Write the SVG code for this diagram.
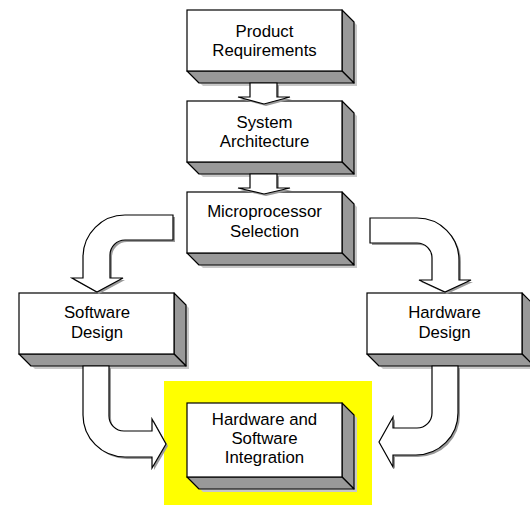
<svg xmlns="http://www.w3.org/2000/svg" xmlns:xlink="http://www.w3.org/1999/xlink" width="530" height="506" viewBox="0 0 530 506">
<style>
.face{fill:#ffffff;stroke:#000;stroke-width:1.2}
.side{fill:#999999;stroke:#000;stroke-width:1.2;stroke-linejoin:round}
.bsh{fill:#c8c8c8;stroke:none}
.arr{fill:#ffffff;stroke:#000;stroke-width:1.2;stroke-linejoin:miter}
.ash{fill:#9a9a9a;stroke:none}
text{font-family:"Liberation Sans",Arial,sans-serif;font-size:16.8px;fill:#000;text-anchor:middle}
</style>
<defs>
<g id="box">
<polygon class="bsh" points="157,2 170,15 170,76 16,76 2,62 155,62"/>
<polygon class="side" points="155,0 167,12 167,73 155,61"/>
<polygon class="side" points="0,61 155,61 167,73 12,73"/>
<rect class="face" x="0" y="0" width="155" height="61"/>
</g>
<path id="a1" d="M250,83 V97 H238 L264,104 L290,97 H277 V83 Z"/>
<path id="a2" d="M250,174 V188 H238 L264,194 L290,188 H277 V174 Z"/>
<path id="a3" d="M173,215 H125 A42,42 0 0 0 83,257 V278 H72 L97,292 L123,278 H110 V255 A15,15 0 0 1 125,240 H173 Z"/>
<path id="a4" d="M370,218 H417 A42,42 0 0 1 459,260 V280 H471 L445,292 L419,280 H432 V258 A15,15 0 0 0 417,243 H370 Z"/>
<path id="a5" d="M83,366 V415 A42,42 0 0 0 125,457 H152 V468 L166,444 L152,419 V431 H124 A15,15 0 0 1 109,416 V366 Z"/>
<path id="a6" d="M458,366 V413 A42,42 0 0 1 416,455 H393 V467 L379,442 L393,417 V428 H417 A15,15 0 0 0 432,413 V366 Z"/>
</defs>
<rect x="0" y="0" width="530" height="506" fill="#ffffff"/>
<rect id="highlight" x="164" y="381" width="208" height="124" fill="#ffff00"/>

<g id="product-requirements">
<use xlink:href="#box" href="#box" transform="translate(187,10)"/>
<text x="264.5" y="37">Product</text>
<text x="264.5" y="56">Requirements</text>
</g>
<g id="system-architecture">
<use xlink:href="#box" href="#box" transform="translate(187,101)"/>
<text x="264.5" y="128">System</text>
<text x="264.5" y="147">Architecture</text>
</g>
<g id="microprocessor-selection">
<use xlink:href="#box" href="#box" transform="translate(187,192)"/>
<text x="264.5" y="217">Microprocessor</text>
<text x="264.5" y="237">Selection</text>
</g>
<g id="software-design">
<use xlink:href="#box" href="#box" transform="translate(19,293)"/>
<text x="97" y="318">Software</text>
<text x="97" y="338">Design</text>
</g>
<g id="hardware-design">
<use xlink:href="#box" href="#box" transform="translate(367,293)"/>
<text x="444.5" y="318">Hardware</text>
<text x="444.5" y="338">Design</text>
</g>
<g id="hw-sw-integration">
<polygon class="bsh" points="344,405 357,418 357,492 203,492 189,478 342,478"/>
<polygon class="side" points="342,403 354,415 354,489 342,477"/>
<polygon class="side" points="187,477 342,477 354,489 199,489"/>
<rect class="face" x="187" y="403" width="155" height="74"/>
<text x="264.5" y="425">Hardware and</text>
<text x="264.5" y="444">Software</text>
<text x="264.5" y="463">Integration</text>
</g>

<g id="connectors">
<use class="ash" xlink:href="#a1" href="#a1" transform="translate(2,2)"/>
<use class="arr" xlink:href="#a1" href="#a1"/>
<use class="ash" xlink:href="#a2" href="#a2" transform="translate(2,2)"/>
<use class="arr" xlink:href="#a2" href="#a2"/>
<use class="ash" xlink:href="#a3" href="#a3" transform="translate(2,2)"/>
<use class="arr" xlink:href="#a3" href="#a3"/>
<use class="ash" xlink:href="#a4" href="#a4" transform="translate(2,2)"/>
<use class="arr" xlink:href="#a4" href="#a4"/>
<use class="ash" xlink:href="#a5" href="#a5" transform="translate(2,2)"/>
<use class="arr" xlink:href="#a5" href="#a5"/>
<use class="ash" xlink:href="#a6" href="#a6" transform="translate(2,2)"/>
<use class="arr" xlink:href="#a6" href="#a6"/>
</g>
</svg>
